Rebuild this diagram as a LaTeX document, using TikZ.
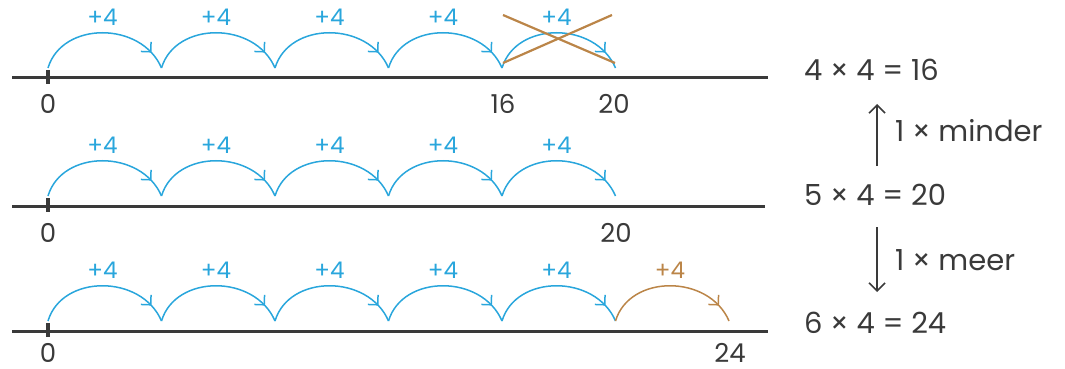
\documentclass[tikz,border=0pt]{standalone}
\usepackage{fontspec}
\setmainfont{Poppins}
\usetikzlibrary{arrows.meta, decorations.markings}
\definecolor{hopblue}{HTML}{29A6DC}
\definecolor{hopbrown}{HTML}{BB8548}
\definecolor{ink}{HTML}{3A3A3A}
\tikzset{
    numline/.style={line width=1.5pt, ink},
    tickmark/.style={line width=2pt, ink},
    hop/.style={line width=0.75pt, hopblue, postaction={decorate},
        decoration={markings, mark=at position 0.87 with {\arrow{Straight Barb[length=3.5pt, width=7pt]}}}},
    hoplbl/.style={font=\fontsize{11.5}{13}\selectfont, text=hopblue, yshift=7.5pt},
    numlbl/.style={font=\fontsize{13}{15}\selectfont, text=ink, inner sep=1pt},
    sumlbl/.style={font=\fontsize{14.5}{17}\selectfont, text=ink, anchor=west},
    steparrow/.style={-{Straight Barb[length=4pt, width=8pt]}, line width=0.8pt, ink},
}

\begin{document}
\begin{tikzpicture}[x=0.5pt, y=-0.5pt]
\useasboundingbox (0,0) rectangle (1065,369);

% Hop points on the three lines
\foreach \i in {0,...,5} {
    \coordinate (a\i) at ({48+113.5*\i}, 68);
    \coordinate (b\i) at ({48+113.5*\i}, 196);
}
\foreach \i in {0,...,6} \coordinate (c\i) at ({48+113.5*\i}, 321);

% ── Line 1: 4 x 4 ──
\coordinate (l1s) at (12, 78);
\coordinate (l1e) at (768, 78);
\draw[numline] (l1s) -- (l1e);
\draw[tickmark] (48, 70) -- (48, 84);
\node[numlbl] (z1) at (48, 104) {0};
\node[numlbl] (n16) at (503, 104) {16};
\node[numlbl] (n20a) at (614, 104) {20};
\foreach \i [count=\j] in {0,...,4}
    \draw[hop] (a\i) .. controls +(14,-47) and +(-20,-47) .. node[midway, hoplbl] {+4} (a\j);
\coordinate (xa) at (503, 15);
\coordinate (xb) at (615, 63);
\coordinate (xc) at (503, 63);
\coordinate (xd) at (612, 15);
\draw[hopbrown, line width=1.1pt] (xa) -- (xb);
\draw[hopbrown, line width=1.1pt] (xc) -- (xd);

% ── Line 2: 5 x 4 ──
\coordinate (l2s) at (12, 206);
\coordinate (l2e) at (765, 206);
\draw[numline] (l2s) -- (l2e);
\draw[tickmark] (48, 198) -- (48, 212);
\node[numlbl] (z2) at (48, 233) {0};
\node[numlbl] (n20b) at (616, 233) {20};
\foreach \i [count=\j] in {0,...,4}
    \draw[hop] (b\i) .. controls +(14,-47) and +(-20,-47) .. node[midway, hoplbl] {+4} (b\j);

% ── Line 3: 6 x 4 ──
\coordinate (l3s) at (12, 331);
\coordinate (l3e) at (768, 331);
\draw[numline] (l3s) -- (l3e);
\draw[tickmark] (48, 323) -- (48, 337);
\node[numlbl] (z3) at (48, 353) {0};
\node[numlbl] (n24) at (730, 353) {24};
\foreach \i [count=\j] in {0,...,4}
    \draw[hop] (c\i) .. controls +(14,-47) and +(-20,-47) .. node[midway, hoplbl] {+4} (c\j);
\draw[hop, hopbrown] (c5) .. controls +(14,-47) and +(-20,-47) .. node[midway, hoplbl, text=hopbrown] {+4} (c6);

% Sums
\node[sumlbl] (s16) at (797, 70) {4 × 4 = 16};
\node[sumlbl] (s20) at (797, 195) {5 × 4 = 20};
\node[sumlbl] (s24) at (797, 323) {6 × 4 = 24};

% One less / one more
\coordinate (up0) at (877, 166);
\coordinate (up1) at (877, 104);
\draw[steparrow] (up0) -- (up1);
\node[sumlbl] (minder) at (888, 131) {1 × minder};
\coordinate (dn0) at (877, 227);
\coordinate (dn1) at (877, 292);
\draw[steparrow] (dn0) -- (dn1);
\node[sumlbl] (meer) at (888, 260) {1 × meer};

\end{tikzpicture}
\end{document}
